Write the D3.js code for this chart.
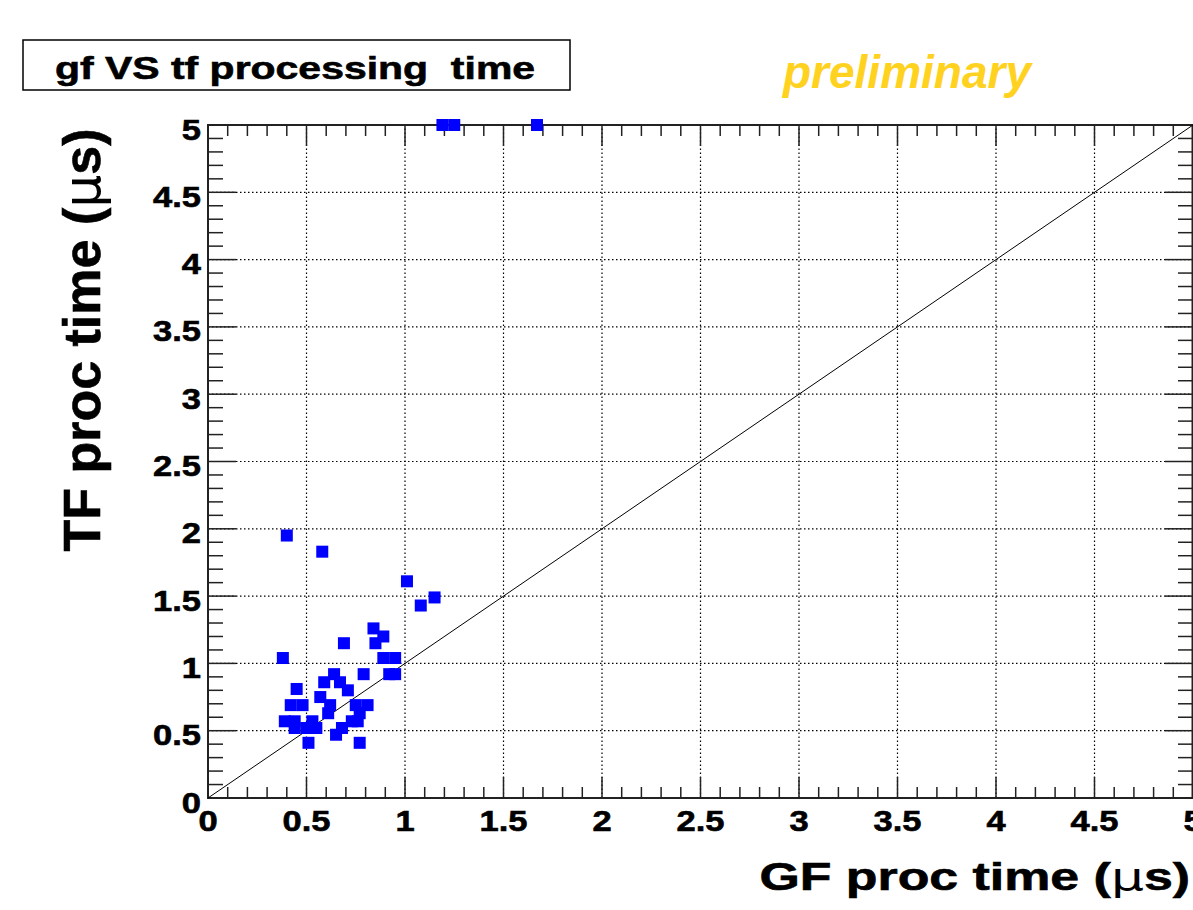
<!DOCTYPE html>
<html>
<head>
<meta charset="utf-8">
<script src="https://cdn.jsdelivr.net/npm/d3@7"></script>
<style>
  body { margin: 0; background: #fff; }
  svg { display: block; font-family: "Liberation Sans", Arial, sans-serif; }
  .heavy { stroke: #000; stroke-width: 0.6px; }
</style>
</head>
<body>
<div id="chart"></div>
<script>
// GF (x) vs TF (y) processing time, in microseconds
var gfTime = [
  0.40, 0.58, 1.01, 1.15, 1.08, 0.84, 0.89, 0.85, 0.69, 0.38,
  0.89, 0.95, 0.92, 0.95, 0.79, 0.64, 0.59, 0.67, 0.71, 0.45,
  0.57, 0.42, 0.48, 0.62, 0.75, 0.81, 0.77, 0.61, 0.39, 0.44,
  0.53, 0.44, 0.50, 0.55, 0.51, 0.65, 0.68, 0.73, 0.76, 0.77,
  1.19, 1.25, 1.67
]
var tfTime = [
  1.95, 1.83, 1.61, 1.49, 1.43, 1.26, 1.20, 1.15, 1.15, 1.04,
  1.04, 1.04, 0.92, 0.92, 0.92, 0.92, 0.86, 0.86, 0.80, 0.81,
  0.75, 0.69, 0.69, 0.69, 0.69, 0.69, 0.63, 0.63, 0.57, 0.57,
  0.57, 0.52, 0.52, 0.52, 0.41, 0.47, 0.52, 0.57, 0.57, 0.41,
  5.0, 5.0, 5.0
]
var majorTicks = [0, 0.5, 1, 1.5, 2, 2.5, 3, 3.5, 4, 4.5, 5]
var tickLabels = ['0', '0.5', '1', '1.5', '2', '2.5', '3', '3.5', '4', '4.5', '5']
var diagonal = [[0, 0], [5, 5]]

var width = 1193
var height = 910
var box = 12
// the original picture is stretched sideways, so horizontal text is widened
var labelStretch = 1.19
var titleStretch = 1.365

var svg = d3.select('#chart').append('svg')
  .attr('width', width)
  .attr('height', height)

var x = d3.scaleLinear().domain([0, 5]).range([208, 1193])
var y = d3.scaleLinear().domain([0, 5]).range([798, 125])

var minorTicks = d3.range(0, 51).map(function(i){ return i / 10 })

// dotted grid
var grid = svg.append('g')
  .attr('stroke', '#000')
  .attr('stroke-width', 1.2)
  .attr('stroke-dasharray', '1.5,2.5')
grid.selectAll('.gx').data(majorTicks.slice(1, -1)).enter().append('line')
  .attr('x1', function(d){ return x(d) }).attr('x2', function(d){ return x(d) })
  .attr('y1', y(0)).attr('y2', y(5))
grid.selectAll('.gy').data(majorTicks.slice(1, -1)).enter().append('line')
  .attr('y1', function(d){ return y(d) }).attr('y2', function(d){ return y(d) })
  .attr('x1', x(0)).attr('x2', x(5))

// frame
svg.append('rect')
  .attr('x', x(0)).attr('y', y(5))
  .attr('width', x(5) - x(0) - 0.5).attr('height', y(0) - y(5))
  .attr('fill', 'none').attr('stroke', '#222').attr('stroke-width', 2)

// tick marks, all pointing inward
var isMajor = function(d){ return Math.abs(d * 2 - Math.round(d * 2)) < 1e-6 }
var ticks = svg.append('g').attr('stroke', '#222').attr('stroke-width', 1.5)
ticks.selectAll('.tb').data(minorTicks).enter().append('line')
  .attr('x1', function(d){ return x(d) }).attr('x2', function(d){ return x(d) })
  .attr('y1', y(0)).attr('y2', function(d){ return y(0) - (isMajor(d) ? 21 : 11) })
ticks.selectAll('.tt').data(minorTicks).enter().append('line')
  .attr('x1', function(d){ return x(d) }).attr('x2', function(d){ return x(d) })
  .attr('y1', y(5)).attr('y2', function(d){ return y(5) + (isMajor(d) ? 21 : 11) })
ticks.selectAll('.tl').data(minorTicks).enter().append('line')
  .attr('y1', function(d){ return y(d) }).attr('y2', function(d){ return y(d) })
  .attr('x1', x(0)).attr('x2', function(d){ return x(0) + (isMajor(d) ? 28 : 15) })
ticks.selectAll('.tr').data(minorTicks).enter().append('line')
  .attr('y1', function(d){ return y(d) }).attr('y2', function(d){ return y(d) })
  .attr('x1', x(5)).attr('x2', function(d){ return x(5) - (isMajor(d) ? 28 : 15) })

// tick labels
svg.append('g').selectAll('text').data(majorTicks).enter().append('text')
  .attr('class', 'heavy')
  .attr('transform', function(d){ return 'translate(' + x(d) + ',831) scale(' + labelStretch + ',1)' })
  .attr('text-anchor', 'middle')
  .attr('font-size', 29).attr('font-weight', 'bold')
  .text(function(d, i){ return tickLabels[i] })
svg.append('g').selectAll('text').data(majorTicks).enter().append('text')
  .attr('class', 'heavy')
  .attr('transform', function(d){ return 'translate(201,' + (y(d) + 14.5) + ') scale(' + labelStretch + ',1)' })
  .attr('text-anchor', 'end')
  .attr('font-size', 29).attr('font-weight', 'bold')
  .text(function(d, i){ return tickLabels[i] })

// y = x reference line
svg.append('path')
  .datum(diagonal)
  .attr('fill', 'none').attr('stroke', '#000').attr('stroke-width', 1)
  .attr('d', d3.line().x(function(d){ return x(d[0]) }).y(function(d){ return y(d[1]) }))

// points
svg.append('g').selectAll('rect').data(gfTime).enter().append('rect')
  .attr('x', function(d){ return x(d) - box / 2 })
  .attr('y', function(d, i){ return y(tfTime[i]) - box / 2 })
  .attr('width', box).attr('height', box)
  .attr('fill', '#0000ff')

// axis titles
function axisTitle(sel, name){
  sel.append('tspan').text(name + ' proc time (')
  sel.append('tspan').attr('font-weight', 'normal').attr('font-family', 'DejaVu Sans').attr('stroke-width', 0).text('μ')
  sel.append('tspan').text('s)')
}
svg.append('text')
  .attr('class', 'heavy')
  .attr('transform', 'translate(1190,890) scale(' + titleStretch + ',1)')
  .attr('text-anchor', 'end')
  .attr('font-size', 38).attr('font-weight', 'bold')
  .call(axisTitle, 'GF')

// vertical title: the sideways stretch widens its letters, not its length
svg.append('text')
  .attr('class', 'heavy')
  .attr('transform', 'translate(100,340) rotate(-90)')
  .attr('text-anchor', 'middle')
  .attr('font-size', 52).attr('font-weight', 'bold')
  .call(axisTitle, 'TF')

// title box
svg.append('rect')
  .attr('x', 23).attr('y', 40).attr('width', 547).attr('height', 50)
  .attr('fill', '#fff').attr('stroke', '#000').attr('stroke-width', 1.5)
svg.append('text')
  .attr('class', 'heavy')
  .attr('transform', 'translate(295,79) scale(1.28,1)')
  .attr('text-anchor', 'middle')
  .attr('font-size', 32).attr('font-weight', 'bold')
  .style('white-space', 'pre')
  .text('gf VS tf processing  time')

svg.append('text')
  .attr('x', 783).attr('y', 88)
  .attr('font-size', 46).attr('font-weight', 'bold').attr('font-style', 'italic')
  .attr('fill', '#ffd21f')
  .text('preliminary')
</script>
</body>
</html>
